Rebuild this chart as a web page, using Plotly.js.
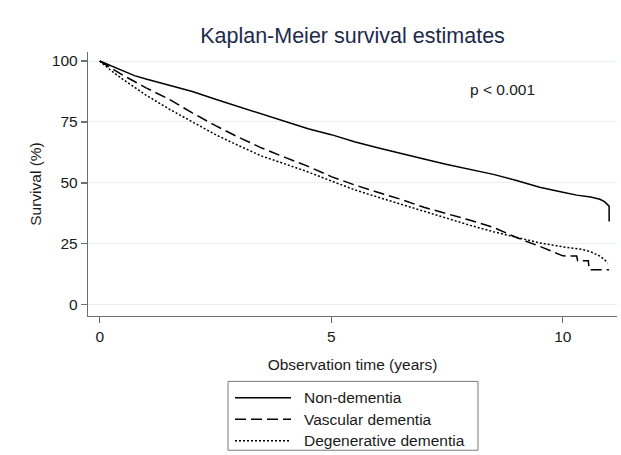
<!DOCTYPE html>
<html>
<head>
<meta charset="utf-8">
<script src="https://cdn.plot.ly/plotly-3.0.1.min.js"></script>
<style>html,body{margin:0;padding:0;background:#fff;}#chart{width:621px;height:455px;}</style>
</head>
<body>
<div id="chart"></div>
<script>
// ---- data ----
const seriesNames = ["Non-dementia", "Vascular dementia", "Degenerative dementia"];

const nonDemTime = [0, 0.25, 0.5, 0.75, 1, 1.5, 2, 2.5, 3, 3.5, 4, 4.5, 5, 5.5, 6, 6.5, 7, 7.5, 8, 8.5, 9, 9.5, 10, 10.3, 10.6, 10.8, 10.9, 11.0, 11.0];
const nonDemSurv = [100, 98.0, 95.9, 94.0, 92.6, 90.0, 87.5, 84.3, 81.3, 78.2, 75.0, 72.2, 69.8, 66.9, 64.4, 62.0, 59.8, 57.6, 55.6, 53.5, 51.0, 48.2, 46.2, 45.0, 44.2, 43.3, 42.3, 40.5, 34.2];

const vascTime = [0, 0.25, 0.5, 1, 1.5, 2, 2.5, 3, 3.5, 4, 4.5, 5, 5.5, 6, 6.5, 7, 7.5, 8, 8.5, 9, 9.5, 9.8, 10.0, 10.3, 10.32, 10.55, 10.57, 11.0];
const vascSurv = [100, 97.0, 94.2, 89.0, 84.3, 78.7, 73.5, 68.7, 64.3, 60.5, 56.8, 52.6, 49.2, 46.2, 43.3, 40.0, 37.4, 34.7, 31.8, 27.6, 24.0, 21.5, 20.1, 20.0, 18.1, 18.1, 14.4, 14.4];

const degTime = [0, 0.25, 0.5, 1, 1.5, 2, 2.5, 3, 3.5, 4, 4.5, 5, 5.5, 6, 6.5, 7, 7.5, 8, 8.5, 9, 9.5, 10, 10.4, 10.6, 10.8, 10.9, 10.97];
const degSurv = [100, 96.0, 92.5, 86.0, 80.3, 75.0, 69.8, 65.3, 61.0, 57.8, 54.5, 50.8, 47.2, 44.2, 41.3, 38.3, 35.5, 32.6, 30.0, 27.6, 25.4, 23.8, 22.8, 21.8, 20.0, 18.5, 17.2];

const yTicks = [0, 25, 50, 75, 100];
const xTicks = [0, 5, 10];
const chartTitle = "Kaplan-Meier survival estimates";
const xTitle = "Observation time (years)";
const yTitle = "Survival (%)";
const pText = "p < 0.001";

// ---- styles ----
const FONT = "Liberation Sans, Arial, sans-serif";
const TXT = "#1a1a1a";
const FS = 15.5;
const dashes = ["solid", "11px,5px", "2px,2px"];
const W = 621, H = 455;
const M = {l: 88, r: 4, t: 52, b: 138.5};
const pw = W - M.l - M.r, ph = H - M.t - M.b;
const px2x = p => (p - M.l) / pw;
const px2y = p => (H - M.b - p) / ph;

const times = [nonDemTime, vascTime, degTime];
const survs = [nonDemSurv, vascSurv, degSurv];

const traces = seriesNames.map((n, i) => ({
  type: "scatter", mode: "lines", name: n,
  x: times[i], y: survs[i],
  line: {color: "#000", width: 1.5, dash: dashes[i]},
  showlegend: false, hoverinfo: "skip"
}));

// manual legend (box, line samples, labels)
const shapes = [{
  type: "rect", xref: "paper", yref: "paper",
  x0: px2x(228), x1: px2x(478), y0: px2y(382), y1: px2y(451),
  line: {color: "#7a7a7a", width: 1}, fillcolor: "rgba(0,0,0,0)"
}];
const annotations = [{
  text: pText, xref: "x", yref: "y", x: 8.7, y: 88.5, showarrow: false,
  font: {family: FONT, size: FS, color: TXT}, xanchor: "center", yanchor: "middle"
}];
const rowY = [398.5, 420, 441.5];
seriesNames.forEach((n, i) => {
  shapes.push({type: "line", xref: "paper", yref: "paper",
    x0: px2x(235), x1: px2x(291), y0: px2y(rowY[i]), y1: px2y(rowY[i]),
    line: {color: "#000", width: 1.5, dash: dashes[i]}});
  annotations.push({text: n, xref: "paper", yref: "paper", x: px2x(302), y: px2y(rowY[i]),
    xanchor: "left", yanchor: "middle", showarrow: false,
    font: {family: FONT, size: FS, color: TXT}});
});

const axisCommon = {
  showline: true, linecolor: "#6f6f6f", linewidth: 1.2,
  ticks: "outside", ticklen: 6, tickcolor: "#6f6f6f", tickwidth: 1.2,
  zeroline: false, tickfont: {family: FONT, size: FS, color: TXT}
};

const layout = {
  width: W, height: H, margin: M,
  paper_bgcolor: "#fff", plot_bgcolor: "#fff",
  font: {family: FONT, color: TXT},
  title: {text: chartTitle, xref: "paper", x: 0.5, xanchor: "center", yref: "container", y: 1 - 35/H, yanchor: "middle",
          font: {family: FONT, size: 21.5, color: "#1e2a4c"}},
  xaxis: Object.assign({}, axisCommon, {
    range: [-0.253, 11.17], tickvals: xTicks, showgrid: false,
    title: {text: xTitle, standoff: 15, font: {family: FONT, size: FS, color: TXT}}
  }),
  yaxis: Object.assign({}, axisCommon, {
    range: [-4.58, 103.7], tickvals: yTicks, showgrid: true, gridcolor: "#e6eff2", gridwidth: 1,
    title: {text: yTitle, standoff: 6, font: {family: FONT, size: FS, color: TXT}}
  }),
  shapes: shapes, annotations: annotations, showlegend: false
};

Plotly.newPlot("chart", traces, layout, {staticPlot: true, displayModeBar: false});
</script>
</body>
</html>
